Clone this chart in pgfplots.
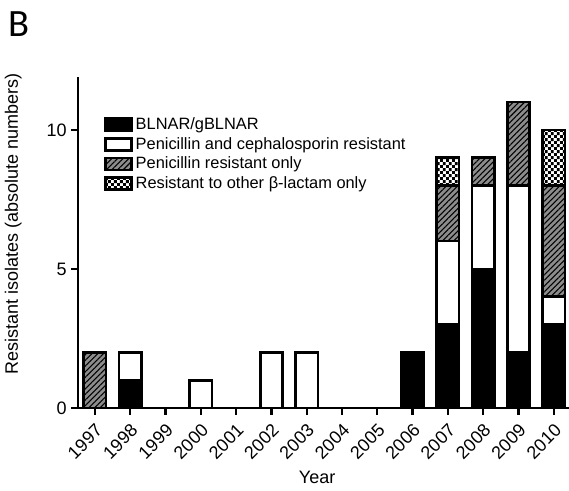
\documentclass[border=0pt]{standalone}
\usepackage{pgfplots}
\pgfplotsset{compat=1.18}
\usepackage{fontspec}
\setmainfont{Liberation Sans}
\newfontfamily\calibri{Carlito}
\usetikzlibrary{patterns,patterns.meta}
\tikzdeclarepattern{
  name=fcheck,
  type=uncolored,
  bounding box={(0,0) and (4.4pt,4.4pt)},
  tile size={(4.4pt,4.4pt)},
  code={\fill (0,0) rectangle (2.2pt,2.2pt); \fill (2.2pt,2.2pt) rectangle (4.4pt,4.4pt);}
}

\begin{document}
\begin{tikzpicture}
\path[use as bounding box] (0,0) rectangle (426.75pt,368.25pt);
\node[anchor=base west, inner sep=0pt, font=\calibri\fontsize{29}{30}\selectfont] at (6pt,340.5pt) {B};
\begin{axis}[
  at={(58.5pt,62.25pt)}, anchor=south west,
  scale only axis, width=368.25pt, height=248.25pt,
  xmin=1996.52, xmax=2010.43, ymin=0, ymax=11.9,
  axis x line=bottom, axis y line=left,
  axis line style={-, line width=2pt},
  ybar stacked, bar width=0.63,
  xtick={1997,...,2010}, ytick={0,5,10},
  tick align=outside, major tick length=5pt,
  tick style={black, line width=1.8pt},
  /pgf/number format/assume math mode=true,
  /pgf/number format/1000 sep={},
  tick label style={font=\fontsize{13.5}{16}\selectfont},
  xticklabel style={rotate=45, anchor=east, yshift=-9pt, xshift=-1pt},
  ylabel={Resistant isolates (absolute numbers)},
  xlabel={Year},
  label style={font=\fontsize{13.5}{16}\selectfont},
  ylabel style={at={(axis description cs:-0.132,0.556)}, anchor=center},
  xlabel style={at={(axis description cs:0.487,-0.211)}, anchor=center},
  legend style={at={(0.045,0.894)}, anchor=north west, draw=none, fill=none,
    font=\fontsize{12.3}{14}\selectfont, row sep=0.3pt},
  legend cell align=left,
  legend image code/.code={\draw[#1] (0pt,-4.5pt) rectangle (19.5pt,4.5pt);},
  every axis plot/.append style={draw=black, line width=2pt},
]
\addplot[fill=black] coordinates {
(1997,0) (1998,1) (1999,0) (2000,0) (2001,0) (2002,0) (2003,0)
(2004,0) (2005,0) (2006,2) (2007,3) (2008,5) (2009,2) (2010,3)};
\addlegendentry{BLNAR/gBLNAR}
\addplot[fill=white] coordinates {
(1997,0) (1998,1) (1999,0) (2000,1) (2001,0) (2002,2) (2003,2)
(2004,0) (2005,0) (2006,0) (2007,3) (2008,3) (2009,6) (2010,1)};
\addlegendentry{Penicillin and cephalosporin resistant}
\addplot[fill=black!45, postaction={pattern={Lines[angle=45,distance=3pt,line width=0.8pt]}}] coordinates {
(1997,2) (1998,0) (1999,0) (2000,0) (2001,0) (2002,0) (2003,0)
(2004,0) (2005,0) (2006,0) (2007,2) (2008,1) (2009,3) (2010,4)};
\addlegendentry{Penicillin resistant only}
\addplot[fill=white, postaction={pattern=fcheck}] coordinates {
(1997,0) (1998,0) (1999,0) (2000,0) (2001,0) (2002,0) (2003,0)
(2004,0) (2005,0) (2006,0) (2007,1) (2008,0) (2009,0) (2010,2)};
\addlegendentry{Resistant to other β-lactam only}
\end{axis}
\end{tikzpicture}
\end{document}
